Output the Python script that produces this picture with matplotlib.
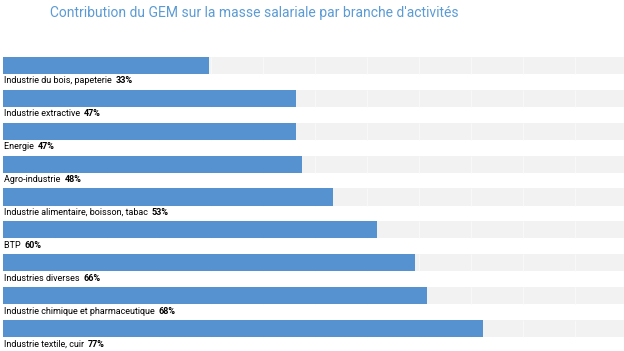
import numpy as np
import matplotlib
matplotlib.use("Agg")
import matplotlib.pyplot as plt

# données
branches = ["Industrie du bois, papeterie", "Industrie extractive", "Energie",
            "Agro-industrie", "Industrie alimentaire, boisson, tabac", "BTP",
            "Industries diverses", "Industrie chimique et pharmaceutique",
            "Industrie textile, cuir"]
valeurs = [33, 47, 47, 48, 53, 60, 66, 68, 77]

bleu = "#5592CF"
gris = "#F2F2F2"
police = "Roboto"

fig = plt.figure(figsize=(6.24, 3.51), dpi=100)
ax = fig.add_axes([3 / 624, 0, 621 / 624, 1])

y = np.arange(len(branches))
ax.barh(y, [100] * len(y), height=0.52, color=gris, zorder=1)
# fines séparations blanches dans le fond
for x in np.arange(100 / 12, 100, 100 / 12):
    for yi in y:
        ax.vlines(x, yi - 0.26, yi + 0.26, color="#FAFAFA", lw=0.6, zorder=1.5)
ax.barh(y, valeurs, height=0.52, color=bleu, zorder=2)

for i, (b, v) in enumerate(zip(branches, valeurs)):
    t = ax.text(0.1, i + 0.47, b + "  ", fontsize=6.5, va="center", ha="left",
                family=police, color="black")
    ax.annotate(f"{v}%", xycoords=t, xy=(1, 0.5), va="center", ha="left",
                fontsize=6.5, fontweight="bold", family=police)

ax.set_xlim(0, 99.6)
ax.set_ylim(8.68, -1.99)
ax.axis("off")

fig.text(254 / 624, 1 - 13 / 351, "Contribution du GEM sur la masse salariale par branche d'activités",
         ha="center", va="center", fontsize=10, color="#5B9BD5", family="Roboto")

fig.savefig("out.png", dpi=100)
